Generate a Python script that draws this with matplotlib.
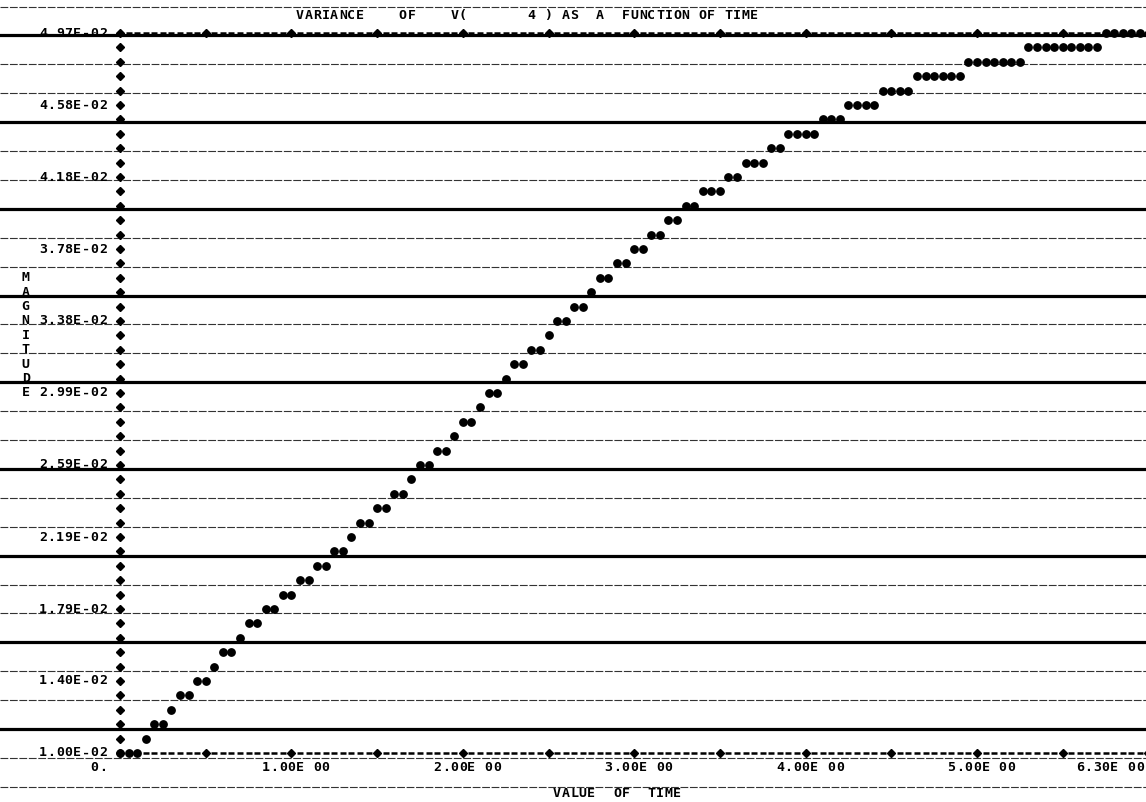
import numpy as np
import matplotlib.pyplot as plt

# variance of v(4) at each time step (units of 1.0E-02), one value per print column
var_e2 = [1.000, 1.000, 1.000, 1.079, 1.159, 1.159, 1.238, 1.318, 1.318, 1.397,
          1.397, 1.476, 1.556, 1.556, 1.635, 1.715, 1.715, 1.794, 1.794, 1.873,
          1.873, 1.953, 1.953, 2.032, 2.032, 2.112, 2.112, 2.191, 2.270, 2.270,
          2.350, 2.350, 2.429, 2.429, 2.509, 2.588, 2.588, 2.667, 2.667, 2.747,
          2.826, 2.826, 2.906, 2.985, 2.985, 3.064, 3.144, 3.144, 3.223, 3.223,
          3.303, 3.382, 3.382, 3.461, 3.461, 3.541, 3.620, 3.620, 3.700, 3.700,
          3.779, 3.779, 3.858, 3.858, 3.938, 3.938, 4.017, 4.017, 4.097, 4.097,
          4.097, 4.176, 4.176, 4.255, 4.255, 4.255, 4.335, 4.335, 4.414, 4.414,
          4.414, 4.414, 4.494, 4.494, 4.494, 4.573, 4.573, 4.573, 4.573, 4.652,
          4.652, 4.652, 4.652, 4.732, 4.732, 4.732, 4.732, 4.732, 4.732, 4.811,
          4.811, 4.811, 4.811, 4.811, 4.811, 4.811, 4.891, 4.891, 4.891, 4.891,
          4.891, 4.891, 4.891, 4.891, 4.891, 4.970, 4.970, 4.970, 4.970, 4.970]
dt = 0.05                      # time step = one print column
time = np.arange(len(var_e2)) * dt
variance = np.array(var_e2) * 1e-2

ylabels = ["1.00E-02", "1.40E-02", "1.79E-02", "2.19E-02", "2.59E-02", "2.99E-02",
           "3.38E-02", "3.78E-02", "4.18E-02", "4.58E-02", "4.97E-02"]
xlabels = ["1.00E 00", "2.00E 00", "3.00E 00", "4.00E 00", "5.00E 00", "6.30E 00"]
xlabel_cols = [17, 37, 57, 77, 97, 112]
title = "VARIANCE    OF    V(       4 ) AS  A  FUNCTION OF TIME"
xname = "VALUE  OF  TIME"
yname = "MAGNITUDE"

ymin, ymax, nrows = 1.00e-2, 4.97e-2, 50
dy = (ymax - ymin) / nrows

# printer page geometry (pixels)
W, H = 1146, 802
X0_PX, COL_PX = 120, 8.57
ROW0_PX, ROW_PX = 753, 14.4

fig = plt.figure(figsize=(W / 100, H / 100), dpi=100)

#---------------------------------------------------------------------
# ruled listing paper
#---------------------------------------------------------------------
paper = fig.add_axes([0, 0, 1, 1])
paper.set_xlim(0, W)
paper.set_ylim(H, 0)
paper.axis('off')
for k in range(28):
    y = 6.5 + 28.9 * k
    if k % 3 == 1:
        paper.axhline(y, color='k', lw=2.3)
    else:
        paper.axhline(y, color='0.2', lw=0.8, ls=(0, (7, 1.5)))

#---------------------------------------------------------------------
# printer plot
#---------------------------------------------------------------------
ax = fig.add_axes([0, 0, 1, 1])
ax.patch.set_alpha(0)
ax.axis('off')
ax.set_xlim(-X0_PX / COL_PX * dt, (W - X0_PX) / COL_PX * dt)
ax.set_ylim(ymin - (H - ROW0_PX) / ROW_PX * dy, ymin + ROW0_PX / ROW_PX * dy)


def put(col, row, s):
    for i, ch in enumerate(s):
        if ch != ' ':
            ax.text((col + i) * dt, ymin + row * dy, ch, ha='center', va='center',
                    family='DejaVu Sans Mono', weight='bold', fontsize=9.5)


# axes frame made of characters
rows = np.arange(1, nrows)
ax.plot(np.zeros(len(rows)), ymin + rows * dy, 'D', ms=4, color='k')
cols = np.arange(0, 121)
tick = cols % 10 == 0
for yy in (ymin, ymax):
    ax.plot(cols[~tick] * dt, np.full((~tick).sum(), yy), '_', ms=5, mew=1.8, color='k')
    ax.plot(cols[tick] * dt, np.full(tick.sum(), yy), 'D', ms=4, color='k')

# the curve
ax.plot(time, variance, 'o', ms=5.3, color='k', zorder=5)

# labels
for k, lab in enumerate(ylabels):
    put(-9, 5 * k, lab)
for c, lab in zip(xlabel_cols, xlabels):
    put(c, -1, lab)
put(-3, -1, "0.")
for i, ch in enumerate(yname):
    put(-11, 33 - i, ch)
put(21, 51.2, title)
put(51, -2.8, xname)

plt.savefig("out.png", dpi=100)
